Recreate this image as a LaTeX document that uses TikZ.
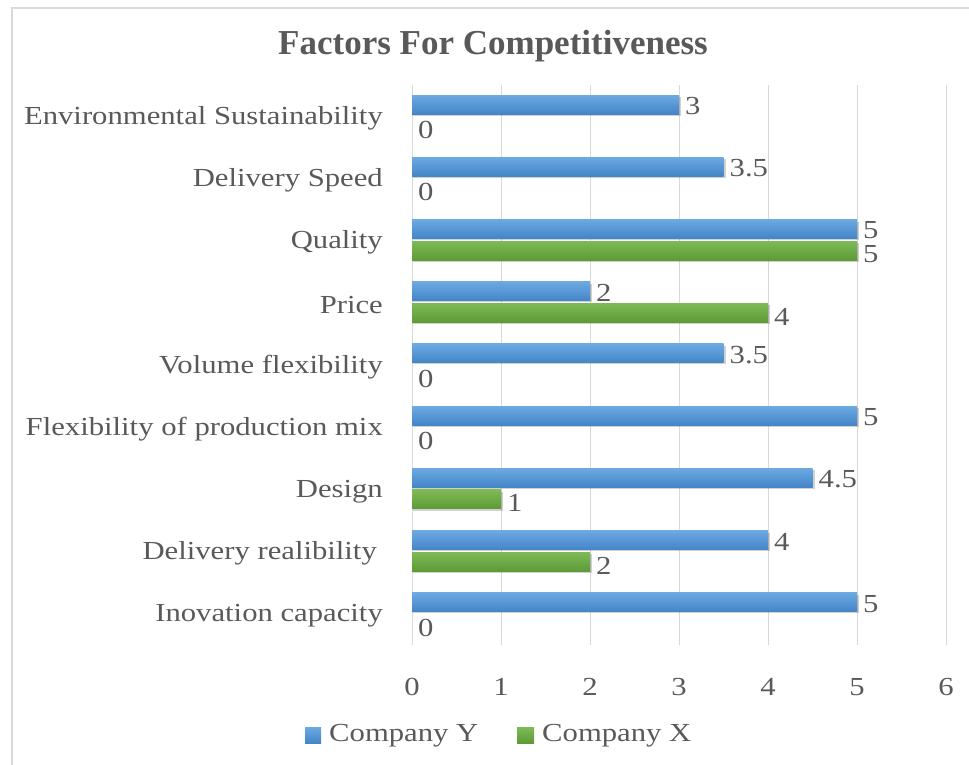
\documentclass[tikz,border=0pt]{standalone}
\usepackage{fontspec}
\setmainfont[FakeStretch=1.18]{Liberation Serif}
\newfontfamily\titlefont{Liberation Serif}
\usetikzlibrary{positioning}
\definecolor{txtgray}{HTML}{595959}
\definecolor{gridgray}{HTML}{D9D9D9}
\definecolor{compYtop}{HTML}{6DA9E2}
\definecolor{compYbot}{HTML}{4385C8}
\definecolor{compXtop}{HTML}{7EBB56}
\definecolor{compXbot}{HTML}{5E9B37}

\begin{document}
\begin{tikzpicture}
[x=1pt, y=-1pt,
Txt/.style={text=txtgray, font=\fontsize{26}{30}\selectfont, inner sep=0pt},
Title/.style={text=txtgray, font=\titlefont\fontsize{35}{40}\selectfont\bfseries, inner sep=0pt},
Grid/.style={draw=gridgray, line width=1pt},
BarY/.style={top color=compYtop, bottom color=compYbot},
BarX/.style={top color=compXtop, bottom color=compXbot},
Shadow/.style={fill=black, opacity=0.18}]

\useasboundingbox (0,0) rectangle (969,765);

% frame
\draw[gridgray, line width=1.5pt] (12,765) -- (12,8) -- (969,8);

% title
\node[Title] (title) at (493,46) {Factors For Competitiveness};

% grid and ticks
\foreach \k in {0,...,6} {
  \draw[Grid] ({412+89*\k},85) -- ({412+89*\k},645);
  \node[Txt] (tick\k) at ({412+89*\k},687) {\k};
}

% bars
\foreach \name/\vy/\vx [count=\i from 0] in {
  Environmental Sustainability/3/0,
  Delivery Speed/3.5/0,
  Quality/5/5,
  Price/2/4,
  Volume flexibility/3.5/0,
  Flexibility of production mix/5/0,
  Design/4.5/1,
  Delivery realibility\kern6pt/4/2,
  Inovation capacity/5/0} {
  \pgfmathsetmacro\c{116.1+62.2*\i}
  \node[Txt, anchor=east] (cat\i) at (383,\c+2) {\name};
  \fill[Shadow] (413,\c-19) rectangle ({414+89*\vy},\c-0.5);
  \shade[BarY] (412,\c-21) rectangle ({412+89*\vy},\c-2);
  \node[Txt, anchor=west] (valY\i) at ({418+89*\vy},\c-10) {\vy};
  \ifdim\vx pt>0pt
    \fill[Shadow] (413,\c+2.5) rectangle ({414+89*\vx},\c+21.5);
    \shade[BarX] (412,\c+0.5) rectangle ({412+89*\vx},\c+19.5);
  \fi
  \node[Txt, anchor=west] (valX\i) at ({418+89*\vx},\c+14) {\vx};
}

% legend
\shade[BarY] (305,727) rectangle (321,743);
\node[Txt, anchor=west] (legY) at (329,736) {Company Y};
\shade[BarX] (517,727) rectangle (534,743);
\node[Txt, anchor=west] (legX) at (542,736) {Company X};

\end{tikzpicture}
\end{document}
